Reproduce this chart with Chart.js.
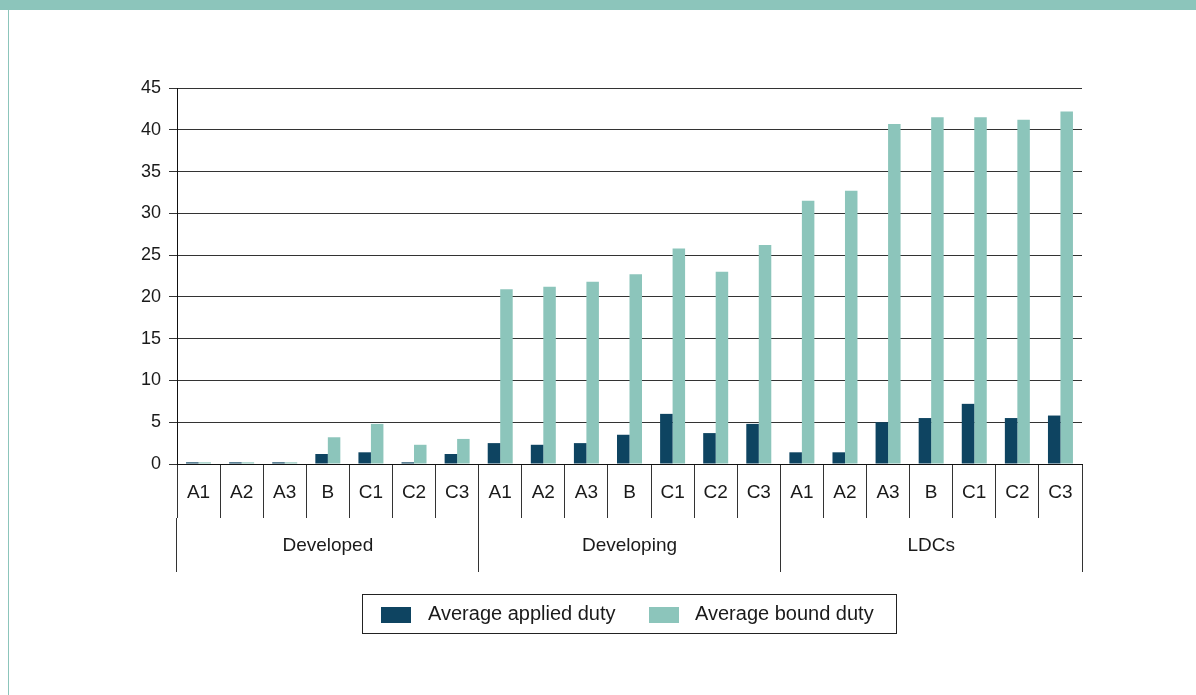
<!DOCTYPE html>
<html>
<head>
<meta charset="utf-8">
<script src="https://cdn.jsdelivr.net/npm/chart.js@4/dist/chart.umd.min.js"></script>
<style>
  html, body { margin: 0; padding: 0; background: #fff; }
  body { width: 1196px; height: 695px; position: relative; overflow: hidden; font-family: "Liberation Sans", Arial, sans-serif; }
  .topbar { position: absolute; left: 0; top: 0; width: 1196px; height: 10px; background: #8cc5bb; }
  .leftline { position: absolute; left: 8px; top: 10px; width: 1px; height: 685px; background: #8cc5bb; }
  #wrap { position: absolute; left: 0; top: 0; width: 1196px; height: 695px; }
  .legend { position: absolute; left: 362px; top: 594px; width: 533px; height: 38px; border: 1px solid #222; }
  .legend .sw { position: absolute; top: 12px; width: 30px; height: 16px; }
  .legend .lb { position: absolute; top: 7px; font-size: 20px; color: #1a1a1a; line-height: 23px; white-space: nowrap; }
</style>
</head>
<body>
<div class="topbar"></div>
<div class="leftline"></div>
<div id="wrap"><canvas id="chart" width="1196" height="695"></canvas></div>
<div class="legend">
  <div class="sw" style="left:18px;background:#0e4461"></div>
  <div class="lb" style="left:65px">Average applied duty</div>
  <div class="sw" style="left:286px;background:#8cc5bb"></div>
  <div class="lb" style="left:332px">Average bound duty</div>
</div>
<script>
// tariff bands, repeated for each country group
const bands = ['A1', 'A2', 'A3', 'B', 'C1', 'C2', 'C3'];
const groups = ['Developed', 'Developing', 'LDCs'];

const categories = [
  'A1', 'A2', 'A3', 'B', 'C1', 'C2', 'C3',
  'A1', 'A2', 'A3', 'B', 'C1', 'C2', 'C3',
  'A1', 'A2', 'A3', 'B', 'C1', 'C2', 'C3'
];

const appliedDuty = [
  0.2, 0.2, 0.2, 1.2, 1.4, 0.2, 1.2,
  2.5, 2.3, 2.5, 3.5, 6.0, 3.7, 4.8,
  1.4, 1.4, 5.0, 5.5, 7.2, 5.5, 5.8
];

const boundDuty = [
  0.2, 0.2, 0.2, 3.2, 4.8, 2.3, 3.0,
  20.9, 21.2, 21.8, 22.7, 25.8, 23.0, 26.2,
  31.5, 32.7, 40.7, 41.5, 41.5, 41.2, 42.2
];

const yTicks = { min: 0, max: 45, step: 5 };

const textColor = '#1a1a1a';
const lineColor = '#333';
const fontFamily = '"Liberation Sans", Arial, sans-serif';

const ctx = document.getElementById('chart').getContext('2d');

new Chart(ctx, {
  type: 'bar',
  data: {
    labels: categories,
    datasets: [{
      label: 'Average applied duty',
      data: appliedDuty,
      backgroundColor: '#0e4461',
      categoryPercentage: 0.58,
      barPercentage: 1.0
    }, {
      label: 'Average bound duty',
      data: boundDuty,
      backgroundColor: '#8cc5bb',
      categoryPercentage: 0.58,
      barPercentage: 1.0
    }]
  },
  options: {
    responsive: false,
    animation: false,
    layout: {
      padding: { left: 117, right: 114, top: 88, bottom: 123 }
    },
    plugins: {
      legend: { display: false },
      tooltip: { enabled: false }
    },
    scales: {
      y: {
        min: yTicks.min,
        max: yTicks.max,
        ticks: {
          stepSize: yTicks.step,
          padding: 8,
          color: textColor,
          font: { family: fontFamily, size: 18 }
        },
        grid: {
          color: lineColor,
          lineWidth: 1,
          tickLength: 8
        },
        border: { display: true, color: '#111', width: 1 },
        afterFit: function (scale) { scale.width = 60; }
      },
      x: {
        weight: 0,
        offset: true,
        ticks: {
          autoSkip: false,
          maxRotation: 0,
          padding: -37,
          color: textColor,
          font: { family: fontFamily, size: 19 }
        },
        grid: {
          offset: true,
          drawOnChartArea: false,
          color: lineColor,
          tickLength: 54
        },
        border: { display: true, color: '#111', width: 1 },
        afterFit: function (scale) { scale.height = 54; }
      },
      groups: {
        type: 'category',
        position: 'bottom',
        weight: 1,
        labels: groups,
        offset: true,
        ticks: {
          autoSkip: false,
          maxRotation: 0,
          padding: -38,
          color: textColor,
          font: { family: fontFamily, size: 19 }
        },
        grid: {
          offset: true,
          drawOnChartArea: false,
          color: lineColor,
          tickLength: 54
        },
        border: { display: false },
        afterFit: function (scale) { scale.height = 54; }
      }
    }
  }
});
</script>
</body>
</html>
